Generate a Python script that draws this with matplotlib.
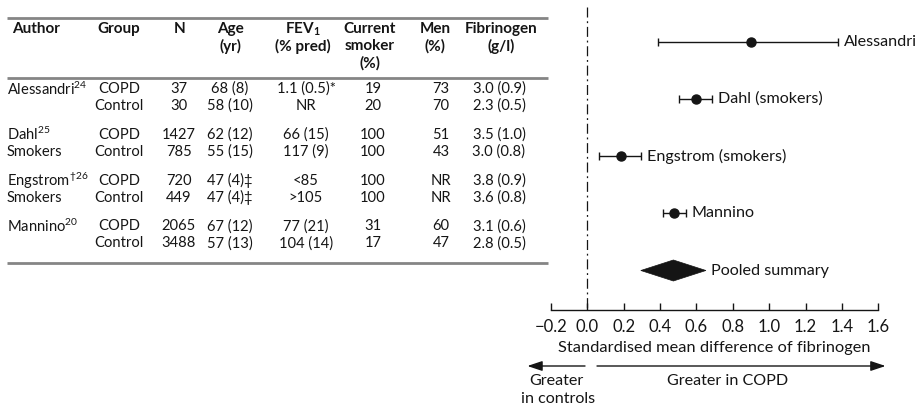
import matplotlib
matplotlib.use("Agg")
import matplotlib.pyplot as plt
import numpy as np
from matplotlib.patches import Polygon

plt.rcParams['font.family'] = ['Lato', 'DejaVu Sans']
plt.rcParams['mathtext.fontset'] = 'custom'
plt.rcParams['mathtext.rm'] = 'Lato'
plt.rcParams['mathtext.default'] = 'regular'

# ---------------- table data ----------------
authors = ["Alessandri$^{24}$", "Dahl$^{25}$", "Engstrom$^{\u2020 26}$", "Mannino$^{20}$"]
author_sub = ["", "Smokers", "Smokers", ""]
groups = ["COPD", "Control"]
n_copd = ["37", "1427", "720", "2065"]
n_ctrl = ["30", "785", "449", "3488"]
age_copd = ["68 (8)", "62 (12)", "47 (4)\u2021", "67 (12)"]
age_ctrl = ["58 (10)", "55 (15)", "47 (4)\u2021", "57 (13)"]
fev_copd = ["1.1 (0.5)*", "66 (15)", "<85", "77 (21)"]
fev_ctrl = ["NR", "117 (9)", ">105", "104 (14)"]
smk_copd = ["19", "100", "100", "31"]
smk_ctrl = ["20", "100", "100", "17"]
men_copd = ["73", "51", "NR", "60"]
men_ctrl = ["70", "43", "NR", "47"]
fib_copd = ["3.0 (0.9)", "3.5 (1.0)", "3.8 (0.9)", "3.1 (0.6)"]
fib_ctrl = ["2.3 (0.5)", "3.0 (0.8)", "3.6 (0.8)", "2.8 (0.5)"]

headers = [["Author"], ["Group"], ["N"], ["Age", "(yr)"], ["FEV$_1$", "(% pred)"],
           ["Current", "smoker", "(%)"], ["Men", "(%)"], ["Fibrinogen", "(g/l)"]]

# ---------------- forest data ----------------
study_labels = ["Alessandri", "Dahl (smokers)", "Engstrom (smokers)", "Mannino"]
smd = [0.90, 0.597, 0.185, 0.479]
ci_low = [0.39, 0.505, 0.066, 0.415]
ci_high = [1.378, 0.688, 0.296, 0.542]
pooled_label = "Pooled summary"
pooled = 0.473
pooled_low = 0.294
pooled_high = 0.652
xticks = [-0.2, 0.0, 0.2, 0.4, 0.6, 0.8, 1.0, 1.2, 1.4, 1.6]

W, H = 917, 409
fig = plt.figure(figsize=(W / 100, H / 100), dpi=100)

# ---------- table axes (pixel coords) ----------
at = fig.add_axes([0, 0, 1, 1])
at.set_xlim(0, W)
at.set_ylim(H, 0)
at.axis('off')

fs = 10.6
hfs = 11
txt_col = '#151515'
line_col = '#858585'
for yl in (18, 77.5, 262.5):
    at.plot([7, 548], [yl, yl], color=line_col, lw=2.0, solid_capstyle='butt')

hdr_x = [12, 119, 180, 230, 303, 370, 435, 501]
hdr_ha = ['left'] + ['center'] * 7
for x, ha, lines in zip(hdr_x, hdr_ha, headers):
    for k, t in enumerate(lines):
        at.text(x, 29 + 17 * k, t, ha=ha, va='center', fontsize=hfs, fontweight='bold',
                color=txt_col)

col_x = [119, 179, 230, 306, 373, 441, 499]
cols_copd = [None, n_copd, age_copd, fev_copd, smk_copd, men_copd, fib_copd]
cols_ctrl = [None, n_ctrl, age_ctrl, fev_ctrl, smk_ctrl, men_ctrl, fib_ctrl]
for i in range(len(authors)):
    y1 = 89 + 45.8 * i
    y2 = y1 + 17
    at.text(7, y1, authors[i], ha='left', va='center', fontsize=fs, color=txt_col)
    if author_sub[i]:
        at.text(7, y2, author_sub[i], ha='left', va='center', fontsize=fs, color=txt_col)
    at.text(col_x[0], y1, groups[0], ha='center', va='center', fontsize=fs, color=txt_col)
    at.text(col_x[0], y2, groups[1], ha='center', va='center', fontsize=fs, color=txt_col)
    for j in range(1, len(col_x)):
        at.text(col_x[j], y1, cols_copd[j][i], ha='center', va='center', fontsize=fs,
                color=txt_col)
        at.text(col_x[j], y2, cols_ctrl[j][i], ha='center', va='center', fontsize=fs,
                color=txt_col)

# ---------- forest axes ----------
x0px, x1px = 551, 878.3
ax = fig.add_axes([x0px / W, 0, (x1px - x0px) / W, 1])
ax.patch.set_alpha(0)
ax.set_xlim(-0.2, 1.6)
ax.set_ylim(H, 0)
for s in ('left', 'right', 'top'):
    ax.spines[s].set_visible(False)
ax.spines['bottom'].set_position(('data', 310))
ax.spines['bottom'].set_linewidth(1.0)
ax.spines['bottom'].set_color(txt_col)
ax.set_yticks([])
ax.set_xticks(xticks)
ax.set_xticklabels([f"{t:.1f}".replace('-', '\u2212') for t in xticks])
ax.tick_params(axis='x', direction='in', length=5, width=1.0, pad=6.5, labelsize=12,
               colors=txt_col)
ax.set_xlabel("Standardised mean difference of fibrinogen", fontsize=11.8, labelpad=4,
              color=txt_col)

ax.plot([0, 0], [7, 310], color=txt_col, lw=0.9, ls=(0, (8, 3, 1.5, 3)))

rows_y = 42 + 57 * np.arange(len(smd))
lbl_fs = 11.6
for i in range(len(smd)):
    ax.errorbar(smd[i], rows_y[i],
                xerr=[[smd[i] - ci_low[i]], [ci_high[i] - smd[i]]],
                fmt='o', color=txt_col, ms=6.5, elinewidth=1.0, capsize=3, capthick=1.0)
    ax.annotate(study_labels[i], (ci_high[i], rows_y[i]), xytext=(4, 0),
                textcoords='offset points', ha='left', va='center', fontsize=lbl_fs,
                color=txt_col, annotation_clip=False)

py = 270.5
diamond = Polygon([[pooled_low, py], [pooled, py - 10.5], [pooled_high, py], [pooled, py + 10.5]],
                  closed=True, facecolor=txt_col, edgecolor=txt_col, lw=0.5)
ax.add_patch(diamond)
ax.annotate(pooled_label, (pooled_high, py), xytext=(4, 0), textcoords='offset points',
            ha='left', va='center', fontsize=lbl_fs, color=txt_col, annotation_clip=False)

# direction arrows
ay = 366
ax.annotate("", xy=(-0.33, ay), xytext=(-0.013, ay), annotation_clip=False,
            arrowprops=dict(arrowstyle='-|>,head_length=0.9,head_width=0.3', color=txt_col,
                            lw=1.0, shrinkA=0, shrinkB=0))
ax.annotate("", xy=(1.64, ay), xytext=(0.053, ay), annotation_clip=False,
            arrowprops=dict(arrowstyle='-|>,head_length=0.9,head_width=0.3', color=txt_col,
                            lw=1.0, shrinkA=0, shrinkB=0))
ax.text(-0.17, 381, "Greater", ha='center', va='center', fontsize=lbl_fs, color=txt_col,
        clip_on=False)
ax.text(-0.16, 399, "in controls", ha='center', va='center', fontsize=lbl_fs, color=txt_col,
        clip_on=False)
ax.text(0.77, 381, "Greater in COPD", ha='center', va='center', fontsize=lbl_fs,
        color=txt_col, clip_on=False)

fig.savefig("out.png", dpi=100)
